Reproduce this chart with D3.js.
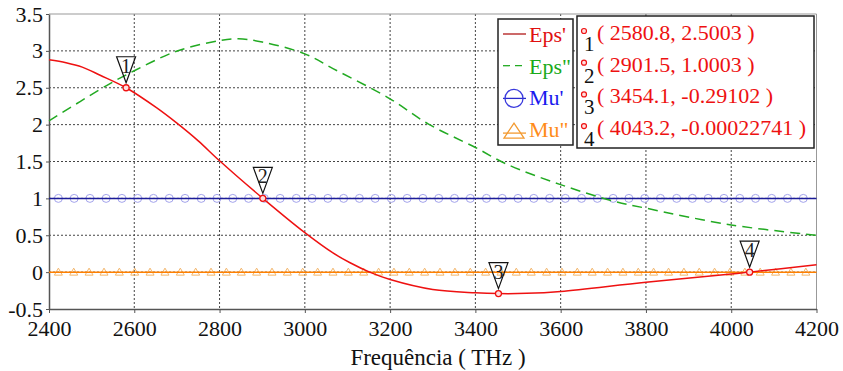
<!DOCTYPE html>
<html>
<head>
<meta charset="utf-8">
<script src="https://cdn.jsdelivr.net/npm/d3@7"></script>
<style>
  body { margin: 0; background: #fff; }
  svg { display: block; }
</style>
</head>
<body>
<svg width="843" height="371" font-family="Liberation Serif"></svg>
<script>
// Eps' (parte real)
const freqEpsR = [2400, 2440, 2478, 2520, 2580.8, 2652, 2700, 2750, 2800, 2901.5, 3000, 3066, 3105, 3152, 3200, 3300, 3400, 3454.1, 3520, 3600, 3800, 4000, 4043.2, 4200];
const epsR = [2.88, 2.84, 2.78, 2.67, 2.5003, 2.23, 2.02, 1.78, 1.51, 1.0003, 0.535, 0.26, 0.13, 0, -0.1, -0.235, -0.28, -0.291, -0.288, -0.262, -0.136, -0.027, 0, 0.1];

// Eps'' (parte imaginária)
const freqEpsI = [2400, 2535, 2600, 2699, 2800, 2844, 2900, 3000, 3066, 3200, 3289, 3400, 3473, 3598, 3723, 3800, 4000, 4200];
const epsI = [2.05, 2.53, 2.73, 2.995, 3.14, 3.163, 3.12, 2.96, 2.76, 2.35, 2.01, 1.69, 1.465, 1.19, 0.965, 0.867, 0.64, 0.5];

// Mu' e Mu'' (constantes), pontos com símbolo
const muRVal = 1;
const muIVal = 0;
const muRFreq = [2422, 2459, 2496, 2534, 2571, 2608, 2645, 2682, 2719, 2757, 2794, 2831, 2868, 2905, 2942, 2980,
  3017, 3054, 3091, 3128, 3165, 3203, 3240, 3277, 3314, 3351, 3388, 3426, 3463, 3500, 3537, 3574,
  3611, 3649, 3686, 3723, 3760, 3797, 3834, 3872, 3909, 3946, 3983, 4020, 4057, 4095, 4132, 4169];
const muIFreq = [2422, 2458, 2494, 2529, 2565, 2601, 2637, 2672, 2708, 2744, 2780, 2816, 2851, 2887, 2923, 2959,
  2995, 3030, 3066, 3102, 3138, 3173, 3209, 3245, 3281, 3317, 3352, 3388, 3424, 3460, 3496, 3531,
  3567, 3603, 3639, 3674, 3710, 3746, 3782, 3818, 3853, 3889, 3925, 3961, 3997, 4032, 4068, 4104, 4140, 4175];

// marcadores
const markerFreq = [2580.8, 2901.5, 3454.1, 4043.2];
const markerVal = [2.5003, 1.0003, -0.29102, -0.00022741];
const markerLabel = ["( 2580.8, 2.5003 )", "( 2901.5, 1.0003 )", "( 3454.1, -0.29102 )", "( 4043.2, -0.00022741 )"];

const seriesNames = ["Eps'", 'Eps"', "Mu'", 'Mu"'];
const xTicks = [2400, 2600, 2800, 3000, 3200, 3400, 3600, 3800, 4000, 4200];
const yTicks = [-0.5, 0, 0.5, 1, 1.5, 2, 2.5, 3, 3.5];

const FONT = "Liberation Serif";
const RED = "#ee1111", GREEN = "#22aa22", NAVY = "#1c1c99", ORANGE = "#ff8000";

const svg = d3.select("svg");
const x = d3.scaleLinear().domain([2400, 4200]).range([49, 816.5]);
const y = d3.scaleLinear().domain([-0.5, 3.5]).range([309, 14]);

// grade pontilhada
const grid = svg.append("g");
grid.selectAll(".gx").data(xTicks.slice(1, -1)).enter().append("line")
  .attr("x1", d => x(d)).attr("x2", d => x(d)).attr("y1", y(3.5)).attr("y2", y(-0.5))
  .attr("stroke", "#444").attr("stroke-dasharray", "2,2");
grid.selectAll(".gy").data(yTicks.slice(1, -1)).enter().append("line")
  .attr("x1", x(2400)).attr("x2", x(4200)).attr("y1", d => y(d)).attr("y2", d => y(d))
  .attr("stroke", "#444").attr("stroke-dasharray", "2,2");

// moldura
svg.append("line").attr("x1", x(2400)).attr("x2", x(4200)).attr("y1", y(3.5)).attr("y2", y(3.5)).attr("stroke", "#999");
svg.append("line").attr("x1", x(4200)).attr("x2", x(4200)).attr("y1", y(3.5)).attr("y2", y(-0.5)).attr("stroke", "#999");

// eixos
const xAxis = svg.append("g").attr("transform", `translate(0,${y(-0.5)})`)
  .call(d3.axisBottom(x).tickValues(xTicks).tickSize(4).tickSizeOuter(0).tickFormat(d => d));
const yAxis = svg.append("g").attr("transform", `translate(${x(2400)},0)`)
  .call(d3.axisLeft(y).tickValues(yTicks).tickSize(3).tickSizeOuter(0).tickFormat(d => String(d)));
[xAxis, yAxis].forEach(a => {
  a.attr("font-family", FONT).attr("font-size", 22);
  a.select(".domain").attr("stroke", "#555").attr("stroke-width", 1.5);
  a.selectAll(".tick line").attr("stroke", "#555");
  a.selectAll("text").attr("fill", "#111");
});
xAxis.selectAll("text").attr("y", 11);
yAxis.selectAll("text").attr("x", -6);

svg.append("text").attr("x", 438).attr("y", 365).attr("text-anchor", "middle")
  .attr("font-family", FONT).attr("font-size", 23).attr("fill", "#111").text("Frequência ( THz )");

// Mu' e Mu''
svg.selectAll(".mu-c").data(muRFreq).enter().append("circle")
  .attr("cx", d => x(d)).attr("cy", y(muRVal)).attr("r", 4)
  .attr("fill", "none").attr("stroke", "#a4a4ec").attr("stroke-width", 1);
svg.selectAll(".mu-t").data(muIFreq).enter().append("path")
  .attr("d", d => `M${x(d) - 4},${y(muIVal) + 3}L${x(d) + 4},${y(muIVal) + 3}L${x(d)},${y(muIVal) - 4}Z`)
  .attr("fill", "none").attr("stroke", "#f3b66c").attr("stroke-width", 1);
svg.append("line").attr("x1", x(2400)).attr("x2", x(4200)).attr("y1", y(muRVal)).attr("y2", y(muRVal))
  .attr("stroke", NAVY).attr("stroke-width", 1.5);
svg.append("line").attr("x1", x(2400)).attr("x2", x(4200)).attr("y1", y(muIVal)).attr("y2", y(muIVal))
  .attr("stroke", ORANGE).attr("stroke-width", 1.5);

// Eps'' e Eps'
const line = d3.line().x(d => x(d[0])).y(d => y(d[1])).curve(d3.curveCatmullRom.alpha(0.5));
svg.append("path").attr("d", line(d3.zip(freqEpsI, epsI)))
  .attr("fill", "none").attr("stroke", GREEN).attr("stroke-width", 1.5).attr("stroke-dasharray", "10,6");
svg.append("path").attr("d", line(d3.zip(freqEpsR, epsR)))
  .attr("fill", "none").attr("stroke", RED).attr("stroke-width", 1.5);

// marcadores 1..4
const mk = svg.selectAll(".mk").data(markerFreq).enter().append("g")
  .attr("transform", (d, i) => `translate(${x(d)},${y(markerVal[i])})`);
mk.append("path").attr("d", "M-9.5,-31L9.5,-31L0,-5Z").attr("fill", "none").attr("stroke", "#111").attr("stroke-width", 1.2);
mk.append("text").attr("y", -15).attr("text-anchor", "middle").attr("font-family", FONT)
  .attr("font-size", 20).attr("fill", "#222").text((d, i) => i + 1);
mk.append("circle").attr("r", 3).attr("fill", "#fdd").attr("stroke", RED).attr("stroke-width", 1.3);

// legenda das séries
const leg = svg.append("g");
leg.append("rect").attr("x", 498).attr("y", 19).attr("width", 75).attr("height", 126)
  .attr("fill", "#fff").attr("stroke", "#222").attr("stroke-width", 1.5);
const legColors = ["#e01010", "#1aaa1a", "#1a1aee", "#ff8c1a"];
const rowY = i => 42 + i * 31.7;
leg.selectAll(".lt").data(seriesNames).enter().append("text")
  .attr("x", 529).attr("y", (d, i) => rowY(i)).attr("font-family", FONT).attr("font-size", 22)
  .attr("fill", (d, i) => legColors[i]).text(d => d);
leg.append("line").attr("x1", 503).attr("x2", 526).attr("y1", rowY(0) - 8).attr("y2", rowY(0) - 8)
  .attr("stroke", "#b01818").attr("stroke-width", 1.3);
leg.append("line").attr("x1", 503).attr("x2", 526).attr("y1", rowY(1) - 8).attr("y2", rowY(1) - 8)
  .attr("stroke", GREEN).attr("stroke-width", 1.3).attr("stroke-dasharray", "7,5");
leg.append("line").attr("x1", 503).attr("x2", 526).attr("y1", rowY(2) - 7).attr("y2", rowY(2) - 7)
  .attr("stroke", "#2a2acc").attr("stroke-width", 1.3);
leg.append("circle").attr("cx", 514).attr("cy", rowY(2) - 7).attr("r", 9)
  .attr("fill", "none").attr("stroke", "#3a3add").attr("stroke-width", 1.3);
leg.append("line").attr("x1", 503).attr("x2", 526).attr("y1", rowY(3) - 4).attr("y2", rowY(3) - 4)
  .attr("stroke", "#f39a30").attr("stroke-width", 1.3);
leg.append("path").attr("d", `M504,${rowY(3) + 1}L524,${rowY(3) + 1}L514,${rowY(3) - 14}Z`)
  .attr("fill", "none").attr("stroke", "#f39a30").attr("stroke-width", 1.3);

// legenda dos marcadores
const leg2 = svg.append("g");
leg2.append("rect").attr("x", 577).attr("y", 16).attr("width", 237).attr("height", 132)
  .attr("fill", "#fff").attr("stroke", "#222").attr("stroke-width", 1.5);
const row2 = leg2.selectAll(".r2").data(markerLabel).enter().append("g")
  .attr("transform", (d, i) => `translate(0,${i * 31.7})`);
row2.append("circle").attr("cx", 584).attr("cy", 31).attr("r", 2.5)
  .attr("fill", "#fdd").attr("stroke", RED).attr("stroke-width", 1.2);
row2.append("text").attr("x", 584).attr("y", 51).attr("font-family", FONT).attr("font-size", 21)
  .attr("fill", "#111").text((d, i) => i + 1);
row2.append("text").attr("x", 597).attr("y", 40).attr("font-family", FONT).attr("font-size", 22)
  .attr("fill", "#ee1111").text(d => d);
</script>
</body>
</html>
